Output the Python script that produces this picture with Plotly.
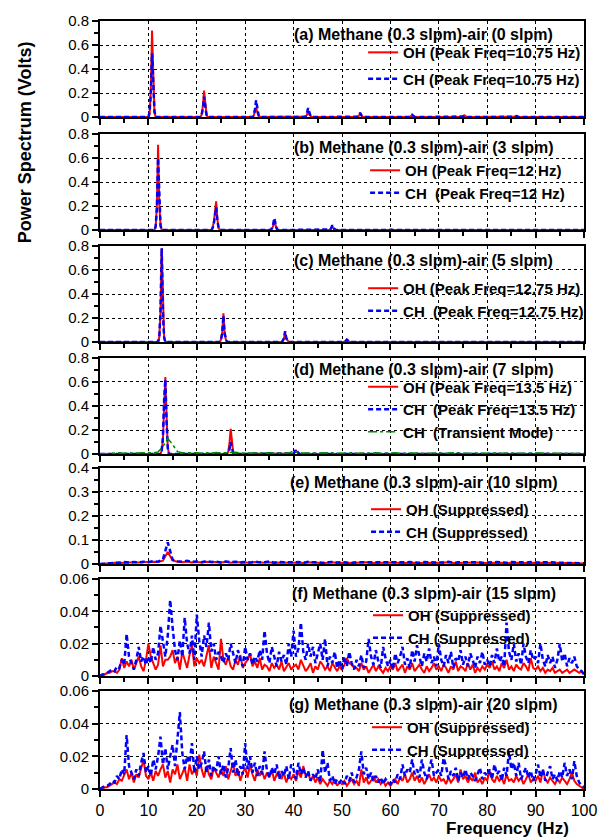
import numpy as np
import plotly.graph_objects as go

# ------------------------------------------------------------------ data
# (a) 0 slpm air : harmonic peaks of 10.75 Hz
freq_a = [0,
          10, 10.25, 10.5, 10.75, 11, 11.25, 11.5,
          20.75, 21, 21.25, 21.5, 21.75, 22, 22.25,
          31.5, 31.75, 32, 32.25, 32.5, 32.75, 33,
          42.25, 42.5, 42.75, 43, 43.25, 43.5, 43.75,
          53, 53.25, 53.5, 53.75, 54, 54.25, 54.5,
          63.75, 64, 64.25, 64.5, 64.75, 65, 65.25,
          74.5, 74.75, 75, 75.25, 75.5, 75.75, 76,
          85.25, 85.5, 85.75, 86, 86.25, 86.5, 86.75,
          96, 96.25, 96.5, 96.75, 97, 97.25, 97.5,
          100]
oh_a = [0,
        0, 0.03, 0.22, 0.72, 0.25, 0.04, 0,
        0, 0.02, 0.09, 0.22, 0.10, 0.02, 0,
        0, 0.01, 0.04, 0.08, 0.04, 0.01, 0,
        0, 0.005, 0.02, 0.05, 0.02, 0.005, 0,
        0, 0.003, 0.012, 0.03, 0.012, 0.003, 0,
        0, 0.002, 0.008, 0.02, 0.008, 0.002, 0,
        0, 0.002, 0.006, 0.015, 0.006, 0.002, 0,
        0, 0.001, 0.004, 0.01, 0.004, 0.001, 0,
        0, 0, 0.003, 0.006, 0.003, 0, 0,
        0]
ch_a = [0,
        0, 0.04, 0.20, 0.53, 0.22, 0.05, 0,
        0, 0.02, 0.07, 0.17, 0.08, 0.02, 0,
        0, 0.02, 0.06, 0.14, 0.06, 0.02, 0,
        0, 0.008, 0.03, 0.075, 0.03, 0.008, 0,
        0, 0.004, 0.015, 0.035, 0.015, 0.004, 0,
        0, 0.002, 0.008, 0.018, 0.008, 0.002, 0,
        0, 0.001, 0.005, 0.012, 0.005, 0.001, 0,
        0, 0.001, 0.003, 0.008, 0.003, 0.001, 0,
        0, 0, 0.002, 0.004, 0.002, 0, 0,
        0]

# (b) 3 slpm air : 12 Hz
freq_b = [0,
          11.25, 11.5, 11.75, 12, 12.25, 12.5, 12.75,
          23, 23.25, 23.5, 23.75, 24, 24.25, 24.5, 24.75,
          35.25, 35.5, 35.75, 36, 36.25, 36.5, 36.75,
          47.25, 47.5, 47.75, 48, 48.25, 48.5, 48.75,
          59.25, 59.5, 59.75, 60, 60.25, 60.5, 60.75,
          100]
oh_b = [0,
        0, 0.03, 0.20, 0.71, 0.22, 0.04, 0,
        0, 0.02, 0.06, 0.15, 0.24, 0.09, 0.02, 0,
        0, 0.01, 0.03, 0.08, 0.03, 0.01, 0,
        0, 0.003, 0.012, 0.03, 0.012, 0.003, 0,
        0, 0.001, 0.003, 0.008, 0.003, 0.001, 0,
        0]
ch_b = [0,
        0, 0.03, 0.18, 0.60, 0.20, 0.04, 0,
        0, 0.015, 0.05, 0.12, 0.19, 0.08, 0.02, 0,
        0, 0.015, 0.04, 0.10, 0.04, 0.015, 0,
        0, 0.005, 0.015, 0.04, 0.015, 0.005, 0,
        0, 0.001, 0.003, 0.008, 0.003, 0.001, 0,
        0]

# (c) 5 slpm air : 12.75 Hz
freq_c = [0,
          12, 12.25, 12.5, 12.75, 13, 13.25, 13.5,
          24.75, 25, 25.25, 25.5, 25.75, 26, 26.25,
          37.5, 37.75, 38, 38.25, 38.5, 38.75, 39,
          50.25, 50.5, 50.75, 51, 51.25, 51.5, 51.75,
          63, 63.25, 63.5, 63.75, 64, 64.25, 64.5,
          100]
oh_c = [0,
        0, 0.04, 0.25, 0.78, 0.25, 0.04, 0,
        0, 0.02, 0.08, 0.24, 0.08, 0.02, 0,
        0, 0.01, 0.03, 0.08, 0.03, 0.01, 0,
        0, 0.002, 0.008, 0.02, 0.008, 0.002, 0,
        0, 0.001, 0.002, 0.005, 0.002, 0.001, 0,
        0]
ch_c = [0,
        0, 0.04, 0.26, 0.78, 0.24, 0.04, 0,
        0, 0.02, 0.07, 0.22, 0.07, 0.02, 0,
        0, 0.01, 0.03, 0.09, 0.03, 0.01, 0,
        0, 0.002, 0.008, 0.02, 0.008, 0.002, 0,
        0, 0.001, 0.002, 0.005, 0.002, 0.001, 0,
        0]

# (d) 7 slpm air : 13.5 Hz
freq_d = [0,
          12.5, 12.75, 13, 13.25, 13.5, 13.75, 14, 14.25,
          26.25, 26.5, 26.75, 27, 27.25, 27.5, 27.75,
          39.75, 40, 40.25, 40.5, 40.75, 41, 41.25,
          100]
oh_d = [0,
        0, 0.03, 0.12, 0.40, 0.64, 0.32, 0.06, 0,
        0, 0.02, 0.09, 0.21, 0.08, 0.02, 0,
        0, 0.005, 0.015, 0.03, 0.015, 0.005, 0,
        0]
ch_d = [0,
        0, 0.03, 0.14, 0.45, 0.62, 0.28, 0.05, 0,
        0, 0.01, 0.04, 0.10, 0.04, 0.01, 0,
        0, 0.005, 0.02, 0.04, 0.02, 0.005, 0,
        0]

# 1 Hz grid spectra
freq_1hz = np.arange(0, 101, 1)
tr_d = [0.000, 0.004, 0.008, 0.006, 0.010, 0.007, 0.012, 0.008, 0.011, 0.009,
        0.012, 0.010, 0.018, 0.060, 0.130, 0.080, 0.020, 0.010, 0.012, 0.008,
        0.010, 0.007, 0.011, 0.008, 0.012, 0.009, 0.010, 0.008, 0.015, 0.009,
        0.010, 0.007, 0.011, 0.009, 0.008, 0.010, 0.007, 0.009, 0.011, 0.008,
        0.025, 0.012, 0.009, 0.010, 0.007, 0.011, 0.008, 0.009, 0.010, 0.007,
        0.009, 0.008, 0.010, 0.007, 0.009, 0.011, 0.008, 0.010, 0.007, 0.009,
        0.008, 0.010, 0.007, 0.009, 0.012, 0.008, 0.010, 0.007, 0.009, 0.008,
        0.010, 0.007, 0.009, 0.008, 0.011, 0.007, 0.009, 0.010, 0.008, 0.007,
        0.009, 0.008, 0.010, 0.007, 0.009, 0.008, 0.010, 0.007, 0.009, 0.008,
        0.007, 0.009, 0.008, 0.006, 0.009, 0.007, 0.008, 0.006, 0.007, 0.005,
        0.004]
oh_e = [0.000, 0.002, 0.003, 0.005, 0.004, 0.006, 0.005, 0.007, 0.006, 0.008,
        0.007, 0.010, 0.009, 0.014, 0.050, 0.015, 0.010, 0.008, 0.011, 0.007,
        0.009, 0.006, 0.010, 0.007, 0.008, 0.006, 0.009, 0.005, 0.008, 0.006,
        0.007, 0.005, 0.008, 0.006, 0.005, 0.007, 0.004, 0.006, 0.005, 0.007,
        0.005, 0.006, 0.004, 0.007, 0.005, 0.006, 0.004, 0.005, 0.007, 0.004,
        0.006, 0.005, 0.004, 0.006, 0.005, 0.007, 0.004, 0.005, 0.006, 0.004,
        0.005, 0.006, 0.004, 0.005, 0.007, 0.005, 0.004, 0.006, 0.005, 0.004,
        0.006, 0.005, 0.007, 0.004, 0.005, 0.006, 0.004, 0.005, 0.006, 0.004,
        0.005, 0.004, 0.006, 0.005, 0.004, 0.006, 0.005, 0.004, 0.005, 0.006,
        0.004, 0.005, 0.004, 0.006, 0.005, 0.004, 0.005, 0.003, 0.004, 0.003,
        0.002]
ch_e = [0.000, 0.002, 0.004, 0.006, 0.005, 0.008, 0.006, 0.009, 0.007, 0.010,
        0.008, 0.012, 0.010, 0.020, 0.090, 0.018, 0.012, 0.010, 0.014, 0.009,
        0.011, 0.008, 0.012, 0.009, 0.010, 0.007, 0.011, 0.008, 0.010, 0.007,
        0.009, 0.006, 0.010, 0.007, 0.008, 0.011, 0.006, 0.009, 0.007, 0.008,
        0.006, 0.008, 0.005, 0.009, 0.007, 0.008, 0.005, 0.007, 0.009, 0.006,
        0.008, 0.006, 0.005, 0.008, 0.007, 0.009, 0.005, 0.007, 0.008, 0.006,
        0.007, 0.008, 0.006, 0.007, 0.009, 0.006, 0.005, 0.008, 0.007, 0.006,
        0.008, 0.006, 0.009, 0.005, 0.007, 0.008, 0.006, 0.007, 0.008, 0.005,
        0.007, 0.006, 0.008, 0.007, 0.005, 0.008, 0.006, 0.007, 0.006, 0.008,
        0.006, 0.007, 0.005, 0.008, 0.006, 0.005, 0.007, 0.004, 0.005, 0.004,
        0.003]

# 0.5 Hz grid spectra (suppressed cases)
freq_half = np.round(np.arange(0, 100.001, 0.5), 2)
oh_f = [0.000, 0.001, 0.001, 0.002, 0.002, 0.003, 0.003, 0.002, 0.004, 0.011, 0.005, 0.009, 0.006, 0.010, 0.004, 0.008, 0.012, 0.006, 0.003, 0.010,
        0.020, 0.012, 0.008, 0.004, 0.007, 0.019, 0.006, 0.010, 0.010, 0.012, 0.016, 0.008, 0.012, 0.004, 0.015, 0.010, 0.005, 0.013, 0.019, 0.006,
        0.011, 0.008, 0.010, 0.006, 0.012, 0.019, 0.005, 0.012, 0.008, 0.004, 0.023, 0.010, 0.007, 0.012, 0.006, 0.004, 0.010, 0.007, 0.013, 0.005,
        0.008, 0.010, 0.014, 0.006, 0.009, 0.005, 0.011, 0.004, 0.007, 0.006, 0.003, 0.008, 0.005, 0.007, 0.004, 0.009, 0.003, 0.006, 0.008, 0.004,
        0.006, 0.007, 0.004, 0.010, 0.006, 0.003, 0.005, 0.008, 0.002, 0.006, 0.004, 0.009, 0.007, 0.004, 0.006, 0.003, 0.008, 0.005, 0.003, 0.006,
        0.004, 0.007, 0.011, 0.008, 0.007, 0.005, 0.005, 0.003, 0.008, 0.004, 0.006, 0.002, 0.005, 0.007, 0.003, 0.006, 0.004, 0.002, 0.005, 0.003,
        0.006, 0.004, 0.008, 0.003, 0.005, 0.007, 0.002, 0.006, 0.004, 0.008, 0.003, 0.005, 0.007, 0.004, 0.002, 0.006, 0.003, 0.005, 0.008, 0.004,
        0.006, 0.003, 0.007, 0.005, 0.002, 0.006, 0.004, 0.009, 0.003, 0.006, 0.005, 0.003, 0.008, 0.004, 0.007, 0.002, 0.005, 0.003, 0.006, 0.004,
        0.007, 0.005, 0.009, 0.004, 0.006, 0.003, 0.008, 0.005, 0.010, 0.004, 0.006, 0.003, 0.007, 0.005, 0.004, 0.008, 0.006, 0.003, 0.011, 0.005,
        0.004, 0.006, 0.003, 0.005, 0.002, 0.004, 0.003, 0.005, 0.002, 0.003, 0.004, 0.002, 0.003, 0.004, 0.002, 0.003, 0.004, 0.003, 0.002, 0.003,
        0.001]
ch_f = [0.000, 0.001, 0.001, 0.002, 0.003, 0.004, 0.003, 0.006, 0.005, 0.010, 0.007, 0.026, 0.012, 0.008, 0.004, 0.010, 0.018, 0.009, 0.012, 0.007,
        0.012, 0.008, 0.018, 0.010, 0.014, 0.031, 0.020, 0.012, 0.025, 0.047, 0.030, 0.016, 0.010, 0.022, 0.012, 0.036, 0.020, 0.014, 0.025, 0.010,
        0.038, 0.022, 0.012, 0.025, 0.018, 0.033, 0.015, 0.020, 0.010, 0.015, 0.012, 0.008, 0.014, 0.010, 0.020, 0.013, 0.008, 0.016, 0.010, 0.006,
        0.018, 0.010, 0.014, 0.007, 0.012, 0.009, 0.016, 0.010, 0.028, 0.014, 0.008, 0.018, 0.011, 0.006, 0.015, 0.009, 0.013, 0.007, 0.020, 0.012,
        0.028, 0.012, 0.017, 0.033, 0.015, 0.010, 0.020, 0.012, 0.018, 0.008, 0.014, 0.020, 0.010, 0.023, 0.006, 0.012, 0.008, 0.015, 0.005, 0.010,
        0.004, 0.012, 0.006, 0.015, 0.008, 0.004, 0.010, 0.006, 0.013, 0.005, 0.009, 0.023, 0.012, 0.007, 0.016, 0.009, 0.005, 0.018, 0.011, 0.006,
        0.010, 0.004, 0.014, 0.008, 0.012, 0.018, 0.007, 0.011, 0.005, 0.016, 0.009, 0.019, 0.012, 0.006, 0.014, 0.009, 0.017, 0.008, 0.012, 0.006,
        0.020, 0.010, 0.006, 0.013, 0.008, 0.015, 0.005, 0.011, 0.009, 0.016, 0.007, 0.012, 0.006, 0.014, 0.010, 0.005, 0.012, 0.008, 0.015, 0.007,
        0.010, 0.006, 0.013, 0.008, 0.017, 0.009, 0.012, 0.006, 0.033, 0.015, 0.010, 0.020, 0.009, 0.014, 0.007, 0.020, 0.012, 0.008, 0.016, 0.010,
        0.012, 0.008, 0.020, 0.010, 0.006, 0.013, 0.008, 0.012, 0.005, 0.010, 0.020, 0.009, 0.014, 0.006, 0.011, 0.008, 0.012, 0.006, 0.004, 0.003,
        0.001]
oh_g = [0.000, 0.000, 0.001, 0.001, 0.002, 0.003, 0.004, 0.003, 0.006, 0.005, 0.008, 0.012, 0.006, 0.010, 0.004, 0.009, 0.007, 0.013, 0.018, 0.008,
        0.006, 0.010, 0.005, 0.011, 0.008, 0.012, 0.015, 0.007, 0.011, 0.004, 0.012, 0.009, 0.015, 0.006, 0.010, 0.013, 0.005, 0.015, 0.009, 0.012,
        0.008, 0.021, 0.012, 0.007, 0.014, 0.009, 0.006, 0.013, 0.010, 0.007, 0.012, 0.008, 0.014, 0.006, 0.011, 0.016, 0.008, 0.012, 0.005, 0.010,
        0.013, 0.007, 0.015, 0.009, 0.005, 0.012, 0.008, 0.011, 0.006, 0.010, 0.007, 0.012, 0.005, 0.009, 0.011, 0.006, 0.010, 0.004, 0.008, 0.006,
        0.009, 0.005, 0.011, 0.007, 0.014, 0.008, 0.010, 0.005, 0.008, 0.004, 0.007, 0.003, 0.006, 0.004, 0.002, 0.005, 0.003, 0.006, 0.002, 0.004,
        0.003, 0.005, 0.002, 0.004, 0.006, 0.003, 0.005, 0.002, 0.012, 0.004, 0.007, 0.003, 0.005, 0.008, 0.004, 0.006, 0.003, 0.005, 0.002, 0.004,
        0.002, 0.004, 0.006, 0.003, 0.007, 0.005, 0.009, 0.004, 0.006, 0.010, 0.005, 0.008, 0.004, 0.007, 0.003, 0.006, 0.009, 0.005, 0.007, 0.004,
        0.008, 0.005, 0.006, 0.003, 0.007, 0.004, 0.006, 0.009, 0.004, 0.012, 0.006, 0.008, 0.004, 0.007, 0.005, 0.010, 0.004, 0.006, 0.003, 0.007,
        0.005, 0.011, 0.006, 0.004, 0.008, 0.005, 0.007, 0.003, 0.009, 0.005, 0.006, 0.004, 0.008, 0.005, 0.007, 0.003, 0.006, 0.009, 0.004, 0.006,
        0.005, 0.008, 0.004, 0.012, 0.006, 0.004, 0.007, 0.005, 0.003, 0.006, 0.004, 0.007, 0.005, 0.003, 0.006, 0.010, 0.005, 0.003, 0.002, 0.001,
        0.000]
ch_g = [0.000, 0.001, 0.002, 0.002, 0.003, 0.005, 0.004, 0.008, 0.006, 0.012, 0.009, 0.033, 0.014, 0.010, 0.006, 0.012, 0.008, 0.016, 0.022, 0.010,
        0.014, 0.008, 0.018, 0.012, 0.020, 0.032, 0.015, 0.025, 0.012, 0.020, 0.027, 0.014, 0.030, 0.047, 0.022, 0.012, 0.020, 0.016, 0.028, 0.010,
        0.020, 0.012, 0.016, 0.023, 0.010, 0.018, 0.008, 0.014, 0.011, 0.020, 0.009, 0.015, 0.007, 0.013, 0.025, 0.010, 0.018, 0.008, 0.014, 0.009,
        0.028, 0.012, 0.020, 0.010, 0.016, 0.008, 0.014, 0.009, 0.023, 0.011, 0.007, 0.013, 0.009, 0.015, 0.006, 0.011, 0.008, 0.014, 0.006, 0.015,
        0.012, 0.006, 0.016, 0.009, 0.013, 0.007, 0.011, 0.005, 0.009, 0.006, 0.012, 0.004, 0.024, 0.010, 0.016, 0.005, 0.008, 0.003, 0.006, 0.004,
        0.006, 0.003, 0.008, 0.005, 0.010, 0.004, 0.007, 0.012, 0.023, 0.009, 0.013, 0.006, 0.010, 0.005, 0.008, 0.004, 0.007, 0.003, 0.006, 0.004,
        0.003, 0.006, 0.004, 0.009, 0.006, 0.015, 0.008, 0.012, 0.010, 0.018, 0.009, 0.012, 0.007, 0.018, 0.010, 0.006, 0.012, 0.018, 0.008, 0.010,
        0.012, 0.008, 0.019, 0.014, 0.006, 0.011, 0.008, 0.013, 0.005, 0.010, 0.007, 0.012, 0.006, 0.010, 0.008, 0.005, 0.009, 0.013, 0.006, 0.010,
        0.008, 0.012, 0.006, 0.015, 0.009, 0.011, 0.005, 0.013, 0.008, 0.023, 0.012, 0.016, 0.008, 0.016, 0.006, 0.010, 0.013, 0.007, 0.011, 0.005,
        0.009, 0.015, 0.007, 0.012, 0.005, 0.010, 0.014, 0.006, 0.009, 0.005, 0.011, 0.007, 0.016, 0.008, 0.012, 0.006, 0.017, 0.008, 0.004, 0.002,
        0.001]

titles = ["(a) Methane (0.3 slpm)-air (0 slpm)", "(b) Methane (0.3 slpm)-air (3 slpm)",
          "(c) Methane (0.3 slpm)-air (5 slpm)", "(d) Methane (0.3 slpm)-air (7 slpm)",
          "(e) Methane (0.3 slpm)-air (10 slpm)", "(f) Methane (0.3 slpm)-air (15 slpm)",
          "(g) Methane (0.3 slpm)-air (20 slpm)"]
NB = "\u00a0"
legend_names = [
    ["OH (Peak Freq=10.75 Hz)", "CH (Peak Freq=10.75 Hz)"],
    ["OH (Peak Freq=12 Hz)", "CH" + NB + " (Peak Freq=12 Hz)"],
    ["OH (Peak Freq=12.75 Hz)", "CH" + NB + " (Peak Freq=12.75 Hz)"],
    ["OH (Peak Freq=13.5 Hz)", "CH" + NB + " (Peak Freq=13.5 Hz)", "CH" + NB + " (Transient Mode)"],
    ["OH (Suppressed)", "CH (Suppressed)"],
    ["OH (Suppressed)", "CH (Suppressed)"],
    ["OH (Suppressed)", "CH (Suppressed)"],
]
series = [
    [(freq_a, oh_a, "oh"), (freq_a, ch_a, "ch")],
    [(freq_b, oh_b, "oh"), (freq_b, ch_b, "ch")],
    [(freq_c, oh_c, "oh"), (freq_c, ch_c, "ch")],
    [(freq_d, oh_d, "oh"), (freq_d, ch_d, "ch"), (freq_1hz, tr_d, "tr")],
    [(freq_1hz, oh_e, "oh"), (freq_1hz, ch_e, "ch")],
    [(freq_half, oh_f, "oh"), (freq_half, ch_f, "ch")],
    [(freq_half, oh_g, "oh"), (freq_half, ch_g, "ch")],
]
y_ticks_big = [0, 0.2, 0.4, 0.6, 0.8]
y_text_big = ["0", "0.2", "0.4", "0.6", "0.8"]
y_minor_big = [0.1, 0.3, 0.5, 0.7]
y_ticks_mid = [0, 0.1, 0.2, 0.3, 0.4]
y_text_mid = ["0", "0.1", "0.2", "0.3", "0.4"]
y_minor_mid = [0.05, 0.15, 0.25, 0.35]
y_ticks_small = [0, 0.02, 0.04, 0.06]
y_text_small = ["0", "0.02", "0.04", "0.06"]
y_minor_small = [0.01, 0.03, 0.05]
yaxes_spec = [(0.8, y_ticks_big, y_text_big, y_minor_big)] * 4 + \
             [(0.4, y_ticks_mid, y_text_mid, y_minor_mid)] + \
             [(0.06, y_ticks_small, y_text_small, y_minor_small)] * 2
x_ticks = [0, 10, 20, 30, 40, 50, 60, 70, 80, 90, 100]
x_minor = [5, 15, 25, 35, 45, 55, 65, 75, 85, 95]

for grp in series:
    for fx, vy, _ in grp:
        assert len(fx) == len(vy), (len(fx), len(vy))

# ------------------------------------------------------------------ layout
W, H = 609, 838
ML, MR, MT, MB = 100, 16, 14, 49
PW = W - ML - MR
PH = H - MT - MB
BOT = H - MB
panel_px = [(14, 111), (128, 225), (241, 338), (354, 451), (465, 562), (577, 675), (690, 789)]
title_px = [28, 142, 256, 366, 480, 592, 704]
legend_px = [(368, 59, 4), (370, 176, 0), (368, 295, 0), (368, 406, 0),
             (371, 518, 0), (373, 625, 0), (372, 738, 0)]

FONT = "Liberation Sans, Arial, sans-serif"
styles = {
    "oh": dict(color="#ff0000", width=2, dash="solid"),
    "ch": dict(color="#0000ff", width=2.5, dash="5px,3px"),
    "tr": dict(color="#008a00", width=1.5, dash="dashdot"),
}


def px_x(x):
    return (x - ML) / PW


def px_y(y):
    return (BOT - y) / PH


fig = go.Figure()
layout = dict(width=W, height=H, margin=dict(l=ML, r=MR, t=MT, b=MB),
              paper_bgcolor="white", plot_bgcolor="white", showlegend=True,
              font=dict(family=FONT, size=15, color="black"))
annotations = []
for i in range(7):
    n = "" if i == 0 else str(i + 1)
    lg = "legend" + n
    for k, (fx, vy, kind) in enumerate(series[i]):
        fig.add_trace(go.Scatter(
            x=fx, y=vy, mode="lines", name=legend_names[i][k], line=styles[kind],
            xaxis="x" + n, yaxis="y" + n, legend=lg, legendgroup=f"p{i}_{k}"))
    top, bot = panel_px[i]
    ymax, tv, tt, mv = yaxes_spec[i]
    layout["xaxis" + n] = dict(
        domain=[0, 1], anchor="y" + n, range=[0, 100], tickmode="array", tickvals=x_ticks,
        showticklabels=(i == 6), ticks="outside", ticklen=6, tickwidth=1.5, tickcolor="black",
        minor=dict(tickmode="array", tickvals=x_minor, ticks="outside", ticklen=4,
                   tickwidth=1.5, tickcolor="black", showgrid=False),
        showline=True, linecolor="black", linewidth=2, mirror=True,
        showgrid=True, gridcolor="black", griddash="dot", gridwidth=1, zeroline=False,
        tickfont=dict(size=16))
    if i != 0:
        layout["xaxis" + n]["matches"] = "x"
    layout["yaxis" + n] = dict(
        domain=[px_y(bot), px_y(top)], anchor="x" + n, range=[0, ymax],
        tickmode="array", tickvals=tv, ticktext=tt, ticks="outside", ticklen=6,
        tickwidth=1.5, tickcolor="black",
        minor=dict(tickmode="array", tickvals=mv, ticks="outside", ticklen=4,
                   tickwidth=1.5, tickcolor="black", showgrid=False),
        showline=True, linecolor="black", linewidth=2, mirror=True,
        showgrid=True, gridcolor="black", griddash="dot", gridwidth=1, zeroline=False,
        tickfont=dict(size=15))
    lx, ly, gap = legend_px[i]
    layout[lg] = dict(x=px_x(lx), y=px_y(ly), xanchor="left", yanchor="middle",
                      bgcolor="rgba(0,0,0,0)", borderwidth=0, tracegroupgap=gap,
                      font=dict(family=FONT, size=15, color="black", weight="bold"))
    annotations.append(dict(text="<b>" + titles[i] + "</b>", xref="paper", yref="paper",
                            x=px_x(430), y=px_y(title_px[i]), xanchor="center",
                            yanchor="middle", showarrow=False,
                            font=dict(family=FONT, size=16, color="black")))

annotations.append(dict(text="<b>Power Spectrum (Volts)</b>", xref="paper", yref="paper",
                        x=px_x(24), y=px_y(136), xanchor="center", yanchor="middle",
                        textangle=-90, showarrow=False,
                        font=dict(family=FONT, size=18, color="black")))
annotations.append(dict(text="<b>Frequency (Hz)</b>", xref="paper", yref="paper",
                        x=px_x(515), y=px_y(829), xanchor="center", yanchor="middle",
                        showarrow=False, font=dict(family=FONT, size=17, color="black")))
layout["annotations"] = annotations
fig.update_layout(**layout)
fig.write_html("out.html")
